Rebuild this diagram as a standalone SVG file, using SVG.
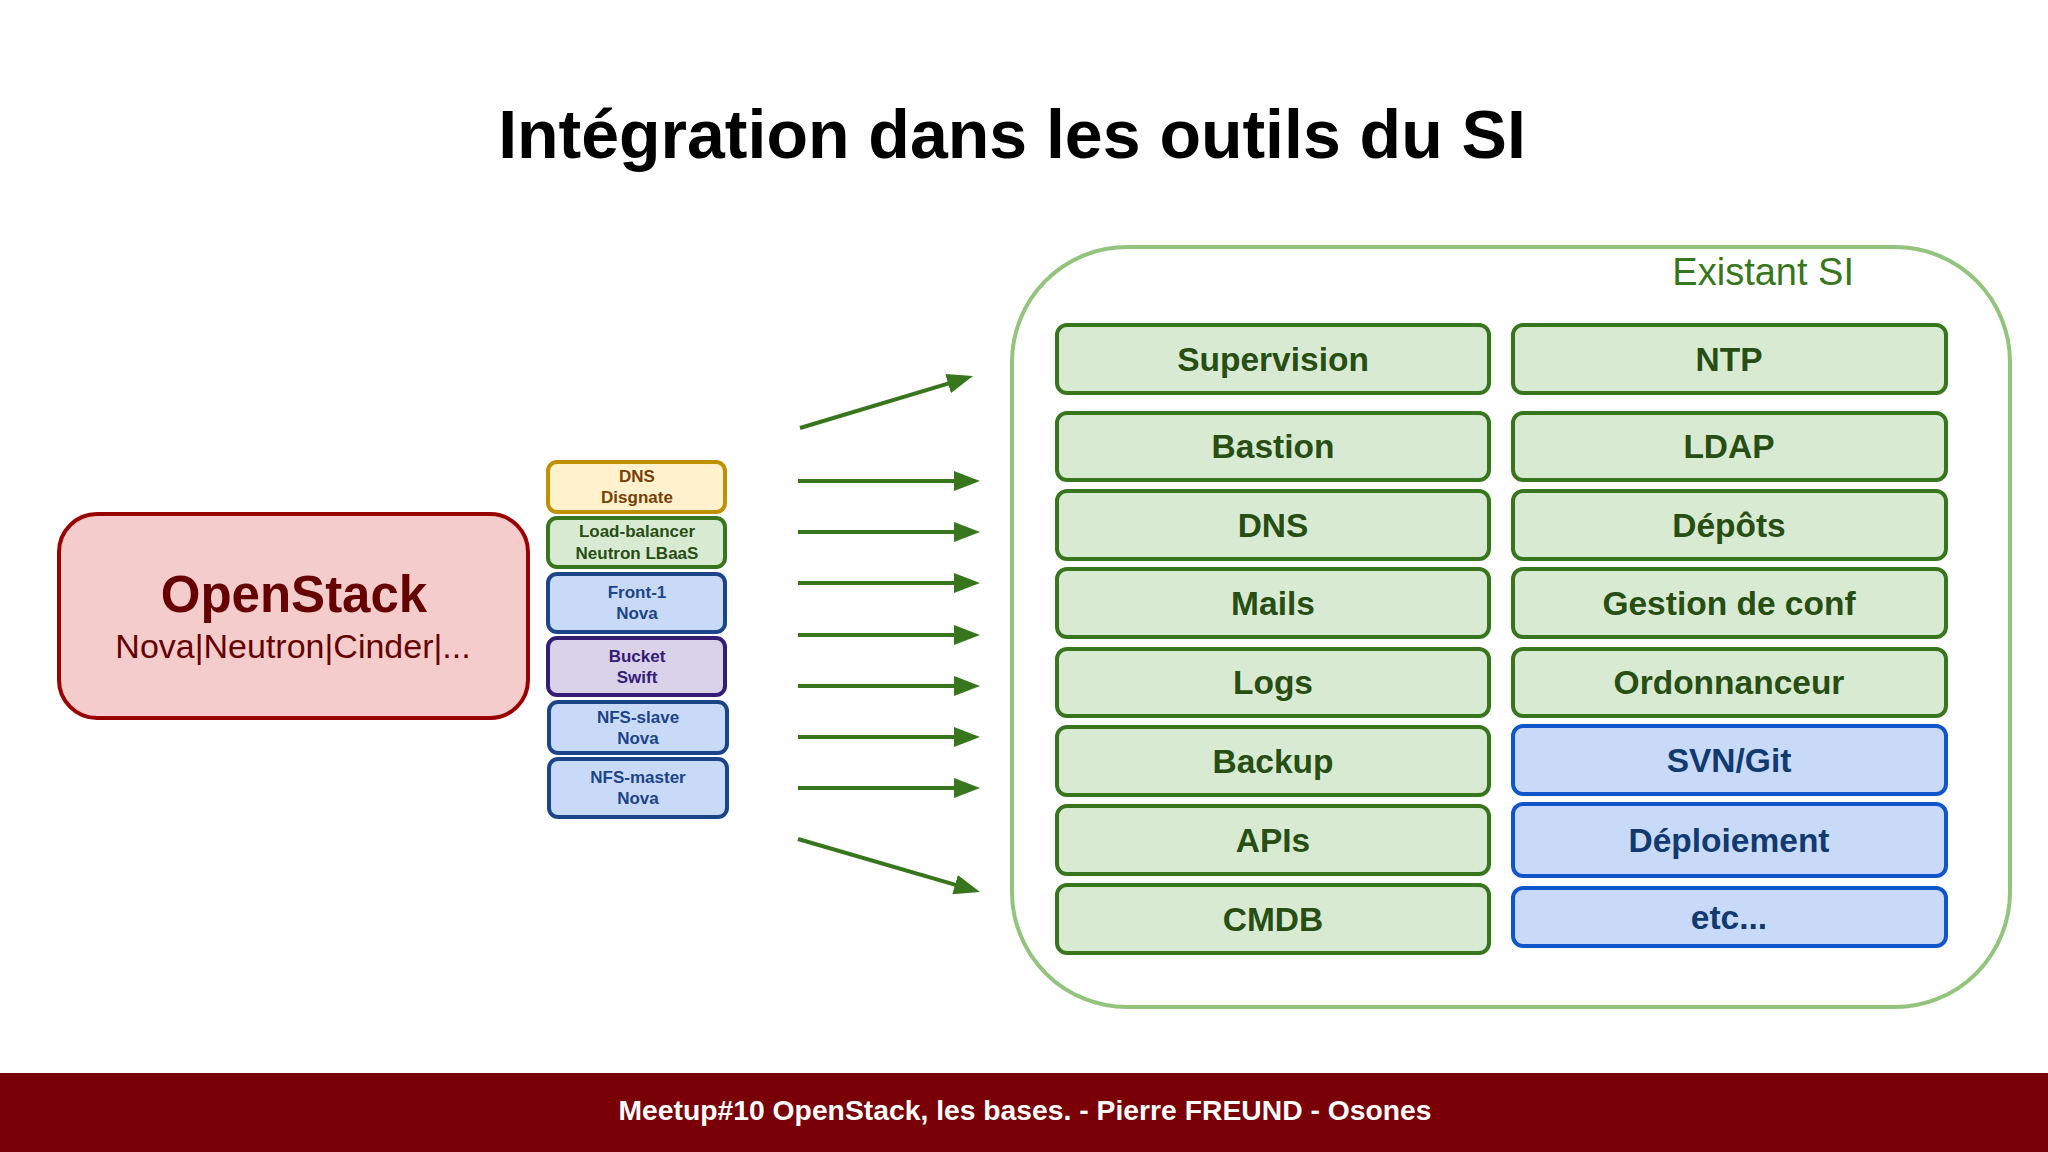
<svg xmlns="http://www.w3.org/2000/svg" width="2048" height="1152" viewBox="0 0 2048 1152">
<defs>
<style>
text{font-family:"Liberation Sans",Arial,sans-serif;text-anchor:middle}
.b{font-weight:bold}
.g rect{fill:#d9ead3;stroke:#38761d;stroke-width:4}
.g text{fill:#274e13;font-weight:bold;font-size:33.5px}
.bl rect{fill:#c9daf8;stroke:#1155cc;stroke-width:4}
.bl text{fill:#103a70;font-weight:bold;font-size:33.5px}
.s text{font-weight:bold;font-size:17px}
.arr line{stroke:#38761d;stroke-width:4;marker-end:url(#ah)}
</style>
<marker id="ah" markerUnits="userSpaceOnUse" markerWidth="26" markerHeight="20" refX="6" refY="10" orient="auto" viewBox="0 0 26 20">
<path d="M0,0 L26,10 L0,20 z" fill="#38761d"/>
</marker>
</defs>
<rect x="0" y="0" width="2048" height="1152" fill="#ffffff"/>
<text id="title" class="b" x="1012" y="158" font-size="68" fill="#000000">Intégration dans les outils du SI</text>

<g id="openstack">
<rect x="59" y="514" width="469" height="204" rx="38" fill="#f4cccc" stroke="#990000" stroke-width="4"/>
<text class="b" x="294" y="612" font-size="51" fill="#660000">OpenStack</text>
<text x="293" y="658" font-size="34" fill="#660000">Nova|Neutron|Cinder|...</text>
</g>

<g id="vm-dns" class="s">
<rect x="548" y="462" width="177" height="50" rx="9" fill="#fff2cc" stroke="#bf9000" stroke-width="4"/>
<text x="637" y="482" fill="#783f04">DNS</text>
<text x="637" y="503" fill="#783f04">Disgnate</text>
</g>
<g id="vm-lb" class="s">
<rect x="548" y="518" width="177" height="49" rx="9" fill="#d9ead3" stroke="#38761d" stroke-width="4"/>
<text x="637" y="537" fill="#274e13">Load-balancer</text>
<text x="637" y="559" fill="#274e13">Neutron LBaaS</text>
</g>
<g id="vm-front" class="s">
<rect x="548" y="574" width="177" height="58" rx="9" fill="#c9daf8" stroke="#1c4587" stroke-width="4"/>
<text x="637" y="598" fill="#1c4587">Front-1</text>
<text x="637" y="619" fill="#1c4587">Nova</text>
</g>
<g id="vm-bucket" class="s">
<rect x="548" y="638" width="177" height="57" rx="9" fill="#d9d2e9" stroke="#351c75" stroke-width="4"/>
<text x="637" y="662" fill="#351c75">Bucket</text>
<text x="637" y="683" fill="#351c75">Swift</text>
</g>
<g id="vm-nfsslave" class="s">
<rect x="549" y="702" width="178" height="51" rx="9" fill="#c9daf8" stroke="#1c4587" stroke-width="4"/>
<text x="638" y="723" fill="#1c4587">NFS-slave</text>
<text x="638" y="744" fill="#1c4587">Nova</text>
</g>
<g id="vm-nfsmaster" class="s">
<rect x="549" y="759" width="178" height="58" rx="9" fill="#c9daf8" stroke="#1c4587" stroke-width="4"/>
<text x="638" y="783" fill="#1c4587">NFS-master</text>
<text x="638" y="804" fill="#1c4587">Nova</text>
</g>

<g id="connectors" class="arr">
<line x1="800" y1="428" x2="953.8" y2="381.8"/>
<line x1="798" y1="481" x2="960" y2="481"/>
<line x1="798" y1="532" x2="960" y2="532"/>
<line x1="798" y1="583" x2="960" y2="583"/>
<line x1="798" y1="635" x2="960" y2="635"/>
<line x1="798" y1="686" x2="960" y2="686"/>
<line x1="798" y1="737" x2="960" y2="737"/>
<line x1="798" y1="788" x2="960" y2="788"/>
<line x1="798" y1="839" x2="960.8" y2="886.4"/>
</g>

<g id="existant-si">
<rect x="1012" y="247" width="998" height="760" rx="115" fill="#ffffff" stroke="#93c47d" stroke-width="4"/>
<text x="1854" y="285" font-size="38" fill="#38761d" style="text-anchor:end">Existant SI</text>
</g>

<g id="supervision" class="g"><rect x="1057" y="325" width="432" height="68" rx="10"/><text x="1273" y="371">Supervision</text></g>
<g id="ntp" class="g"><rect x="1513" y="325" width="433" height="68" rx="10"/><text x="1729" y="371">NTP</text></g>
<g id="bastion" class="g"><rect x="1057" y="413" width="432" height="67" rx="10"/><text x="1273" y="458">Bastion</text></g>
<g id="ldap" class="g"><rect x="1513" y="413" width="433" height="67" rx="10"/><text x="1729" y="458">LDAP</text></g>
<g id="dns" class="g"><rect x="1057" y="491" width="432" height="68" rx="10"/><text x="1273" y="537">DNS</text></g>
<g id="depots" class="g"><rect x="1513" y="491" width="433" height="68" rx="10"/><text x="1729" y="537">Dépôts</text></g>
<g id="mails" class="g"><rect x="1057" y="569" width="432" height="68" rx="10"/><text x="1273" y="615">Mails</text></g>
<g id="gestion" class="g"><rect x="1513" y="569" width="433" height="68" rx="10"/><text x="1729" y="615">Gestion de conf</text></g>
<g id="logs" class="g"><rect x="1057" y="649" width="432" height="67" rx="10"/><text x="1273" y="694">Logs</text></g>
<g id="ordonnanceur" class="g"><rect x="1513" y="649" width="433" height="67" rx="10"/><text x="1729" y="694">Ordonnanceur</text></g>
<g id="backup" class="g"><rect x="1057" y="727" width="432" height="68" rx="10"/><text x="1273" y="773">Backup</text></g>
<g id="svn" class="bl"><rect x="1513" y="726" width="433" height="68" rx="10"/><text x="1729" y="772">SVN/Git</text></g>
<g id="apis" class="g"><rect x="1057" y="806" width="432" height="68" rx="10"/><text x="1273" y="852">APIs</text></g>
<g id="deploiement" class="bl"><rect x="1513" y="804" width="433" height="72" rx="10"/><text x="1729" y="852">Déploiement</text></g>
<g id="cmdb" class="g"><rect x="1057" y="885" width="432" height="68" rx="10"/><text x="1273" y="931">CMDB</text></g>
<g id="etc" class="bl"><rect x="1513" y="888" width="433" height="58" rx="10"/><text x="1729" y="929">etc...</text></g>

<rect x="0" y="1073" width="2048" height="79" fill="#780006"/>
<text class="b" x="1025" y="1120" font-size="28.3" fill="#ffffff">Meetup#10 OpenStack, les bases. - Pierre FREUND - Osones</text>
</svg>
